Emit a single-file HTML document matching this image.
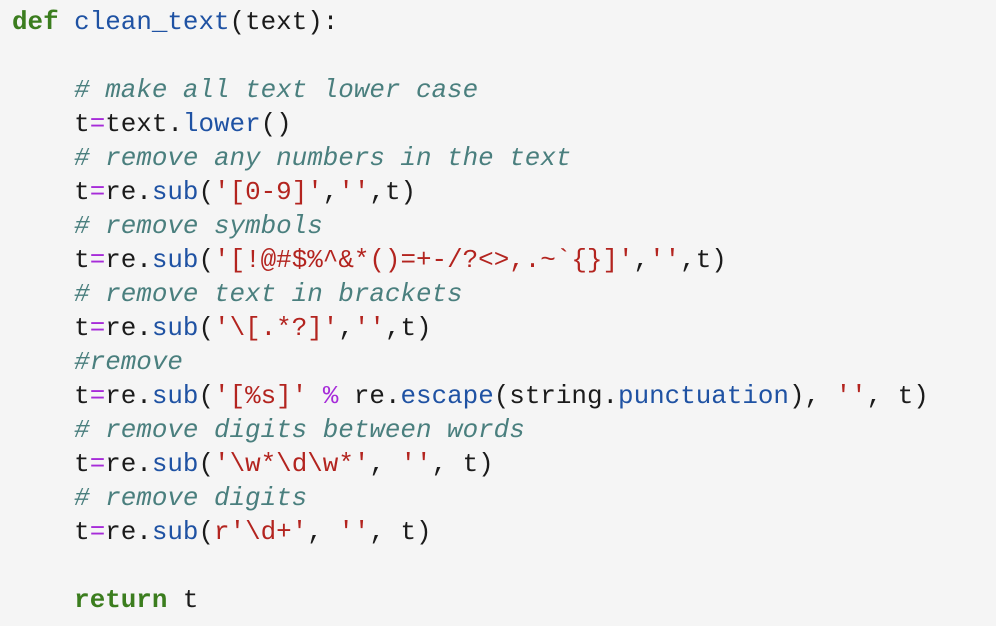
<!DOCTYPE html>
<html><head><meta charset="utf-8"><style>
html,body{margin:0;padding:0;background:#f5f5f5;}
body{width:996px;height:626px;overflow:hidden;}
pre{margin:0;padding:5px 0 0 12px;font-family:"Liberation Mono","DejaVu Sans Mono",monospace;font-size:25.9px;line-height:34px;color:#1b1b1b;}
.k{color:#3b7d1e;font-weight:bold}
.f{color:#1f52a3}
.c{color:#4a7f7e;font-style:italic}
.s{color:#b3241f}
.o{color:#a62bd9}
</style></head><body><pre><span class="k">def</span> <span class="f">clean_text</span>(text):

    <span class="c"># make all text lower case</span>
    t<span class="o">=</span>text.<span class="f">lower</span>()
    <span class="c"># remove any numbers in the text</span>
    t<span class="o">=</span>re.<span class="f">sub</span>(<span class="s">'[0-9]'</span>,<span class="s">''</span>,t)
    <span class="c"># remove symbols</span>
    t<span class="o">=</span>re.<span class="f">sub</span>(<span class="s">'[!@#$%^&amp;*()=+-/?&lt;&gt;,.~`{}]'</span>,<span class="s">''</span>,t)
    <span class="c"># remove text in brackets</span>
    t<span class="o">=</span>re.<span class="f">sub</span>(<span class="s">'\[.*?]'</span>,<span class="s">''</span>,t)
    <span class="c">#remove</span>
    t<span class="o">=</span>re.<span class="f">sub</span>(<span class="s">'[%s]'</span> <span class="o">%</span> re.<span class="f">escape</span>(string.<span class="f">punctuation</span>), <span class="s">''</span>, t)
    <span class="c"># remove digits between words</span>
    t<span class="o">=</span>re.<span class="f">sub</span>(<span class="s">'\w*\d\w*'</span>, <span class="s">''</span>, t)
    <span class="c"># remove digits</span>
    t<span class="o">=</span>re.<span class="f">sub</span>(<span class="s">r'\d+'</span>, <span class="s">''</span>, t)

    <span class="k">return</span> t
</pre></body></html>
